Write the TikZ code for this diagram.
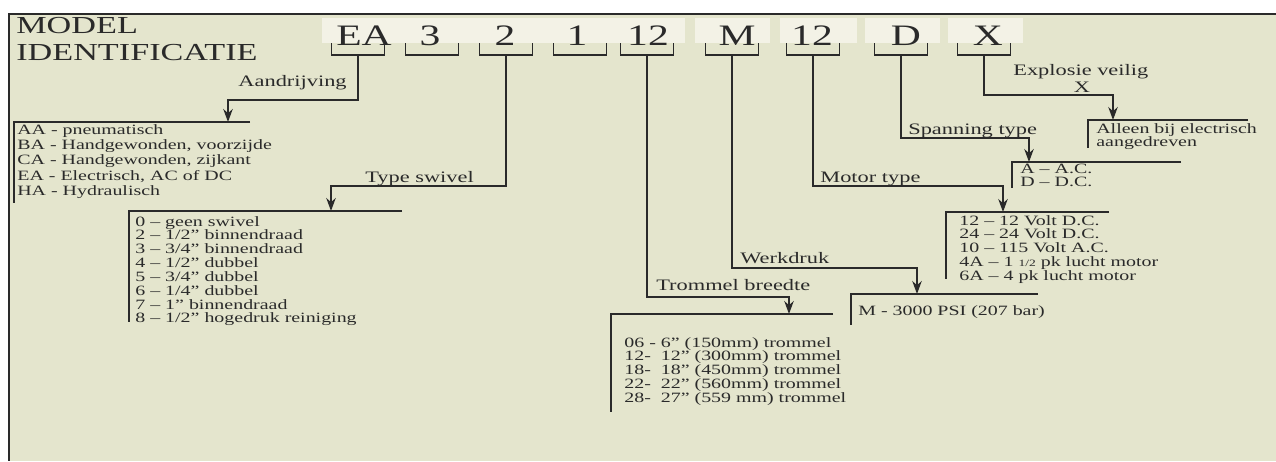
\documentclass[tikz,border=0pt]{standalone}
\usepackage{fontspec}
\setmainfont[FakeStretch=1.4]{Liberation Serif}
\usetikzlibrary{arrows.meta}
\definecolor{paper}{HTML}{E4E5CD}
\definecolor{chip}{HTML}{F3F2E6}
\definecolor{ink}{HTML}{2A2A2A}
\tikzset{
  code/.style={anchor=base, inner sep=0pt, text=ink, font=\fontsize{16.9}{20}\selectfont},
  title/.style={anchor=base west, inner sep=0pt, text=ink, font=\fontsize{13.9}{15}\selectfont},
  lbl/.style={anchor=base west, inner sep=0pt, text=ink, font=\fontsize{9.1}{10}\selectfont},
  lst/.style={anchor=base west, inner sep=0pt, text=ink, font=\fontsize{8.1}{#1}\selectfont},
  rule/.style={draw=ink, line width=0.6pt},
  arr/.style={draw=ink, line width=0.9pt, -{Stealth[length=7.4pt, width=5.4pt]}}
}
\newcommand{\listrows}[1]{\begin{tabular}[t]{@{}l@{}}#1\end{tabular}}
\begin{document}
\begin{tikzpicture}[x=0.02cm, y=-0.02cm]
    \useasboundingbox (0,0) rectangle (1276,461);
    \fill[white] (0,0) rectangle (1276,461);
    \fill[paper] (9,14) rectangle (1276,461);
    \draw[ink, line width=1.1pt] (1276,14) -- (9,14);
    \draw[ink, line width=1.7pt] (9,13) -- (9,461);

    \node[title] (model) at (16,33) {MODEL};
    \node[title] (ident) at (16,60) {IDENTIFICATIE};

    \fill[chip] (322,18) rectangle (685,43);
    \fill[chip] (695,18) rectangle (770,43);
    \fill[chip] (780,18) rectangle (857,43);
    \fill[chip] (865,18) rectangle (940,43);
    \fill[chip] (948,18) rectangle (1023,43);
    \foreach \nm/\txt/\gx/\bx in {ea/EA/364/358, dr/3/430/432, sw/2/505/506, on/1/577/580, tr/12/648/647, wd/M/737/732, mt/12/812/813, sp/D/906/901, ex/X/988/984} {
        \node[code] (c-\nm) at (\gx,45) {\txt};
        \draw[rule] (\bx-26.5,43) |- (\bx+26.5,55) -- (\bx+26.5,43);
        \coordinate (b-\nm) at (\bx,55);
    }

    \draw[rule] (250,122) -| (14,203);
    \node[lst=8.8] (l-ea) at (17,134) {\listrows{AA - pneumatisch\\BA - Handgewonden, voorzijde\\CA - Handgewonden, zijkant\\EA - Electrisch, AC of DC\\HA - Hydraulisch}};
    \coordinate (i-ea) at (228,122);
    \draw[arr] (b-ea) -- ++(0,45) -| (i-ea);
    \node[lbl, anchor=base east] (t-ea) at (347,86) {Aandrijving};

    \draw[rule] (402,211) -| (129,322);
    \node[lst=7.55] (l-sw) at (135,226) {\listrows{0 – geen swivel\\2 – 1/2” binnendraad\\3 – 3/4” binnendraad\\4 – 1/2” dubbel\\5 – 3/4” dubbel\\6 – 1/4” dubbel\\7 – 1” binnendraad\\8 – 1/2” hogedruk reiniging}};
    \coordinate (i-sw) at (331,211);
    \draw[arr] (b-sw) -- ++(0,131) -| (i-sw);
    \node[lbl] (t-sw) at (365,182) {Type swivel};

    \draw[rule] (833,314) -| (611,412);
    \node[lst=7.4] (l-tr) at (624,347) {\listrows{06 - 6” (150mm) trommel\\12-~ 12” (300mm) trommel\\18-~ 18” (450mm) trommel\\22-~ 22” (560mm) trommel\\28-~ 27” (559 mm) trommel}};
    \coordinate (i-tr) at (789,314);
    \draw[arr] (b-tr) -- ++(0,242) -| (i-tr);
    \node[lbl] (t-tr) at (656,290) {Trommel breedte};

    \draw[rule] (1038,294) -| (851,325);
    \node[lst=8.8] (l-wd) at (858,315) {M - 3000 PSI (207 bar)};
    \coordinate (i-wd) at (917,294);
    \draw[arr] (b-wd) -- ++(0,213) -| (i-wd);
    \node[lbl] (t-wd) at (740,263) {Werkdruk};

    \draw[rule] (1109,212) -| (946,279);
    \node[lst=7.55] (l-mt) at (959,225) {\listrows{12 – 12 Volt D.C.\\24 – 24 Volt D.C.\\10 – 115 Volt A.C.\\4A – 1 {\fontsize{5.5}{6}\selectfont 1/2} pk lucht motor\\6A – 4 pk lucht motor}};
    \coordinate (i-mt) at (1003,212);
    \draw[arr] (b-mt) -- ++(0,131) -| (i-mt);
    \node[lbl] (t-mt) at (820,182) {Motor type};

    \draw[rule] (1181,162) -| (1012,188);
    \node[lst=7.9] (l-sp) at (1020,173) {\listrows{A – A.C.\\D – D.C.}};
    \coordinate (i-sp) at (1029,162);
    \draw[arr] (b-sp) -- ++(0,83) -| (i-sp);
    \node[lbl] (t-sp) at (908,134) {Spanning type};

    \draw[rule] (1248,120) -| (1088,148);
    \node[lst=6.5] (l-ex) at (1096,133) {\listrows{Alleen bij electrisch\\aangedreven}};
    \coordinate (i-ex) at (1113,120);
    \draw[arr] (b-ex) -- ++(0,40) -| (i-ex);
    \node[lbl] (t-ex) at (1013,75) {Explosie veilig};
    \node[lbl, anchor=base] (t-x) at (1082,92) {X};
\end{tikzpicture}
\end{document}
